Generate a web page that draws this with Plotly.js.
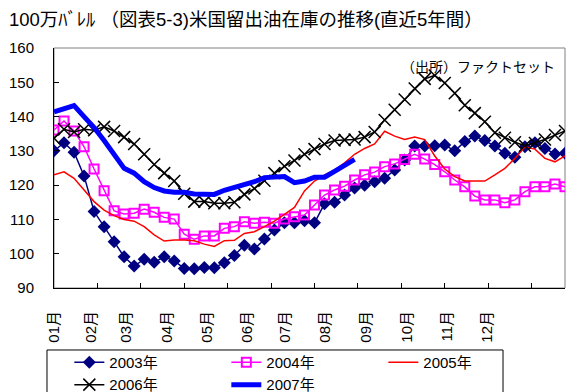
<!DOCTYPE html>
<html>
<head>
<meta charset="utf-8">
<script src="https://cdn.plot.ly/plotly-3.0.1.min.js"></script>
<style>html,body{margin:0;padding:0;background:#fff;}#chart{width:570px;height:392px;}</style>
</head>
<body>
<div id="chart"></div>
<script>
// Week index (weekly data, 52 weeks per year)
const weeks = Array.from({length: 52}, (_, i) => i);

const y2003 = [130.0,132.4,129.6,122.7,112.3,107.9,103.5,99.1,96.4,98.4,97.5,99.1,97.9,95.7,95.6,96.0,95.9,97.4,99.5,102.5,101.4,104.3,106.9,109.0,109.0,109.6,109.0,114.6,115.0,117.1,119.2,120.0,121.0,122.0,124.4,127.3,131.4,131.4,131.5,131.7,130.0,132.7,134.3,133.0,131.4,129.3,128.1,131.2,132.4,130.7,129.1,129.3];
const y2004 = [136.1,138.7,135.8,131.2,124.7,118.4,112.5,111.6,111.8,113.0,112.1,110.6,110.1,105.7,104.2,105.2,105.2,107.4,107.9,109.3,108.9,109.2,108.9,110.1,110.8,111.3,114.2,117.1,118.6,119.7,121.5,123.0,123.8,125.4,126.2,127.5,129.0,127.6,126.0,123.9,121.5,119.5,116.8,115.7,115.7,114.9,115.7,118.1,119.5,119.5,120.3,119.5];
const y2005 = [123.0,123.9,122.0,118.6,115.2,112.7,111.1,110.0,109.5,107.9,105.5,103.7,104.0,104.0,103.8,102.8,102.1,103.8,103.9,105.9,106.4,107.9,109.5,111.5,113.5,118.3,121.2,123.0,124.4,126.5,129.0,130.7,132.0,135.7,134.3,133.3,134.0,133.3,128.5,124.7,122.5,121.2,121.2,121.2,123.0,124.9,127.8,131.2,130.5,127.8,126.8,128.5];
const y2006 = [133.7,136.3,135.5,136.3,136.0,137.0,135.8,134.0,132.0,129.0,126.0,123.5,121.2,117.5,115.2,115.2,114.7,114.7,115.0,117.3,119.0,121.3,123.5,125.5,127.2,129.0,130.5,132.0,133.0,133.2,133.3,134.0,135.5,139.0,142.0,145.0,148.2,151.0,152.0,149.8,146.8,143.3,141.0,138.5,135.3,133.8,132.5,131.5,132.3,133.3,134.6,135.8];
const y2007 = [141.4,142.3,143.2,140.0,136.8,133.0,128.8,124.9,123.5,121.0,119.3,118.3,117.9,117.9,117.4,117.3,117.3,118.5,119.4,120.0,121.0,122.2,122.5,122.5,120.7,121.2,122.3,122.3,124.0,125.8,127.5];

const seriesNames = ["2003年","2004年","2005年","2006年","2007年"];
const monthLabels = ["01月","02月","03月","04月","05月","06月","07月","08月","09月","10月","11月","12月"];

// layout helpers (positions of labels and month boundaries on the week axis)
const labelPos = [0,3.66,7.19,11.25,15.27,19.23,23.05,27.05,31.2,35.2,39.2,43.2];
const monthTicks = Array.from({length: 11}, (_, i) => 52/12*(i+1));

const FONT = "'Liberation Sans', Arial, 'Noto Sans CJK JP', sans-serif";

const traces = [
  {x: weeks, y: y2003, name: seriesNames[0], mode: "lines+markers",
   line: {color: "#000080", width: 1.5},
   marker: {symbol: "diamond", size: 10, color: "#000080"}},
  {x: weeks, y: y2004, name: seriesNames[1], mode: "lines+markers",
   line: {color: "#FF00FF", width: 1.5},
   marker: {symbol: "square-open", size: 9, color: "#FF00FF", line: {width: 2, color: "#FF00FF"}}},
  {x: weeks, y: y2005, name: seriesNames[2], mode: "lines",
   line: {color: "#FF0000", width: 1.5}},
  {x: weeks, y: y2006, name: seriesNames[3], mode: "lines+markers",
   line: {color: "#000000", width: 1.5},
   marker: {symbol: "x-thin-open", size: 12, color: "#000000", line: {width: 1.5, color: "#000000"}}},
  {x: weeks.slice(0, y2007.length), y: y2007, name: seriesNames[4], mode: "lines",
   line: {color: "#0000FF", width: 5}}
];

const layout = {
  width: 570, height: 392,
  margin: {l: 54, r: 5, t: 48, b: 104, autoexpand: false},
  paper_bgcolor: "#fff", plot_bgcolor: "#fff",
  font: {family: FONT, size: 15, color: "#000"},
  title: {text: "100万ﾊﾞﾚﾙ （図表5-3)米国留出油在庫の推移(直近5年間）",
          x: 9/570, xanchor: "left", xref: "container",
          y: 1 - 20/392, yanchor: "middle", yref: "container",
          font: {family: FONT, size: 18.5, color: "#000"}},
  xaxis: {range: [0, 51], showgrid: false, zeroline: false,
          showline: true, linecolor: "#000", linewidth: 1,
          tickmode: "array", tickvals: labelPos, ticktext: monthLabels,
          ticks: "", tickangle: -90, ticklabelstandoff: 16,
          tickfont: {family: FONT, size: 15, color: "#000"},
          minor: {tickmode: "array", tickvals: monthTicks, ticks: "inside", ticklen: 5, tickcolor: "#000", tickwidth: 1}},
  yaxis: {range: [90, 160], dtick: 10, tick0: 90, showgrid: false, zeroline: false,
          showline: true, linecolor: "#000", linewidth: 1,
          ticks: "inside", ticklen: 5, tickcolor: "#000",
          ticklabelstandoff: 16,
          tickfont: {family: FONT, size: 15, color: "#000"}},
  showlegend: true,
  legend: {orientation: "h", x: 0.03, xanchor: "left", y: -0.2412, yanchor: "top",
           entrywidth: 112, bgcolor: "rgba(0,0,0,0)", borderwidth: 0,
           font: {family: FONT, size: 15, color: "#000"}, tracegroupgap: 0},
  shapes: [
    {type: "rect", xref: "paper", yref: "paper", x0: 0, x1: 1, y0: 0, y1: 1,
     line: {color: "#808080", width: 1}, layer: "below"},
    {type: "rect", xref: "paper", yref: "paper", x0: -0.0137, x1: 0.8787, y0: -0.2583, y1: -0.47,
     line: {color: "#000", width: 1}, fillcolor: "rgba(0,0,0,0)", layer: "below"}
  ],
  annotations: [
    {text: "（出所）ファクトセット", xref: "paper", yref: "paper", x: 0.675, y: 0.921,
     xanchor: "left", yanchor: "middle", showarrow: false,
     font: {family: FONT, size: 14, color: "#000"}}
  ]
};

Plotly.newPlot("chart", traces, layout, {displayModeBar: false, staticPlot: true});
</script>
</body>
</html>
